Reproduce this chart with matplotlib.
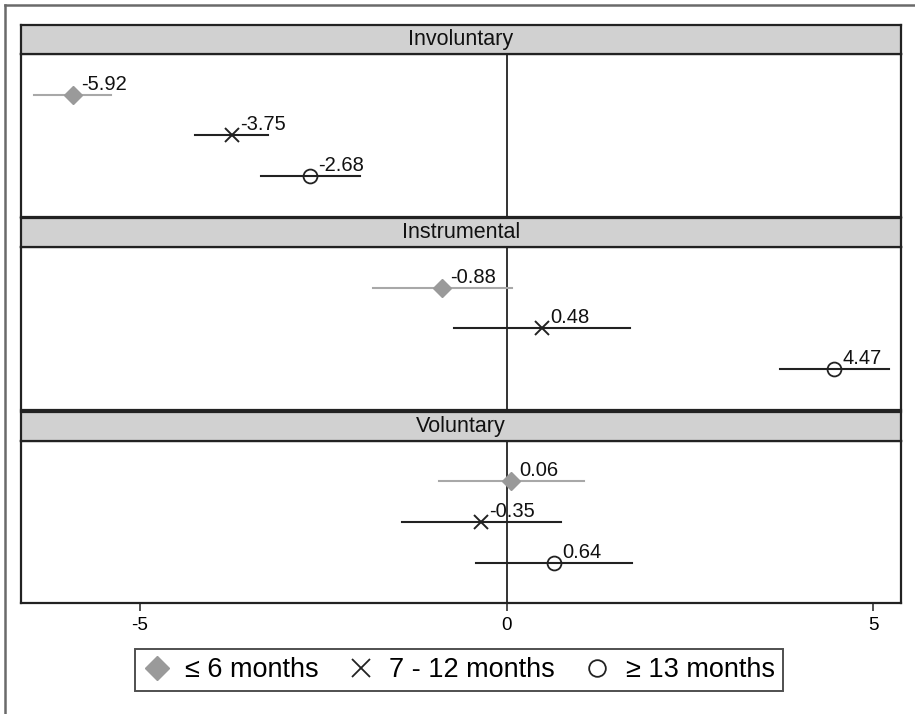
import matplotlib
matplotlib.use("Agg")
import matplotlib.pyplot as plt
from matplotlib.lines import Line2D

plt.rcParams['font.family'] = ['Liberation Sans', 'DejaVu Sans']

panels = ["Involuntary", "Instrumental", "Voluntary"]
groups = ["\u2264 6 months", "7 - 12 months", "\u2265 13 months"]
estimates = {
    "Involuntary": [-5.92, -3.75, -2.68],
    "Instrumental": [-0.88, 0.48, 4.47],
    "Voluntary": [0.06, -0.35, 0.64],
}
ci_low = {
    "Involuntary": [-6.45, -4.25, -3.35],
    "Instrumental": [-1.83, -0.72, 3.73],
    "Voluntary": [-0.92, -1.43, -0.42],
}
ci_high = {
    "Involuntary": [-5.39, -3.26, -2.00],
    "Instrumental": [0.07, 1.68, 5.21],
    "Voluntary": [1.05, 0.74, 1.71],
}
labels = {
    "Involuntary": ["-5.92", "-3.75", "-2.68"],
    "Instrumental": ["-0.88", "0.48", "4.47"],
    "Voluntary": ["0.06", "-0.35", "0.64"],
}
xticks = [-5, 0, 5]

W, H = 915, 714
fig = plt.figure(figsize=(W / 100, H / 100), dpi=100)

# outer frame (left + top only visible)
fig.add_artist(Line2D([5 / W, 5 / W], [0, 1 - 5 / H], transform=fig.transFigure,
                      color="#6a6a6a", lw=1.8))
fig.add_artist(Line2D([5 / W, 1], [1 - 5 / H, 1 - 5 / H], transform=fig.transFigure,
                      color="#6a6a6a", lw=1.8))

left_px, right_px = 21.3, 900.7
xmin = (left_px - 506.7) / 73.33
xmax = (right_px - 506.7) / 73.33

panel_tops = [54, 247, 440.7]
panel_h = 162.5
header_h = 29

marker_style = [
    dict(marker="D", color="#9a9a9a", ms=9, mfc="#9a9a9a", mec="#9a9a9a"),
    dict(marker="x", color="#222222", ms=10, mew=1.4),
    dict(marker="o", color="#222222", ms=10, mfc="none", mec="#222222", mew=1.3),
]
line_colors = ["#a8a8a8", "#222222", "#222222"]

axes = []
for i, name in enumerate(panels):
    top = panel_tops[i]
    ax = fig.add_axes([left_px / W, 1 - (top + panel_h) / H,
                       (right_px - left_px) / W, panel_h / H])
    ax.set_xlim(xmin, xmax)
    ax.set_ylim(4, 0)
    ax.axvline(0, color="#333333", lw=1.4, zorder=1)
    for j in range(3):
        y = j + 1
        ax.plot([ci_low[name][j], ci_high[name][j]], [y, y],
                color=line_colors[j], lw=1.5, zorder=2)
        ax.plot([estimates[name][j]], [y], ls="none", zorder=3, **marker_style[j])
        ax.annotate(labels[name][j], (estimates[name][j], y), xytext=(6, 3.5),
                    textcoords="offset points", fontsize=14.5, color="#111111",
                    ha="left", va="baseline")
    ax.set_yticks([])
    for s in ax.spines.values():
        s.set_color("#222222")
        s.set_linewidth(1.6)
    if i < 2:
        ax.set_xticks([])
    else:
        ax.set_xticks(xticks)
        ax.set_xticklabels([str(t) for t in xticks])
        ax.tick_params(axis="x", length=6, width=1.2, color="#333333",
                       labelsize=13.5, pad=4)
    # header strip
    hax = fig.add_axes([left_px / W, 1 - top / H,
                        (right_px - left_px) / W, header_h / H])
    hax.set_xticks([])
    hax.set_yticks([])
    hax.set_facecolor("#d1d1d1")
    for s in hax.spines.values():
        s.set_color("#222222")
        s.set_linewidth(1.6)
    hax.text(0.5, 0.5, name, ha="center", va="center", fontsize=15.5,
             color="#111111", transform=hax.transAxes)
    axes.append(ax)

handles = [
    Line2D([], [], ls="none", marker="D", color="#9a9a9a", ms=12),
    Line2D([], [], ls="none", marker="x", color="#222222", ms=12.5, mew=1.3),
    Line2D([], [], ls="none", marker="o", mfc="none", mec="#222222", ms=12, mew=1.3),
]
leg = fig.legend(handles, groups, loc="center", bbox_to_anchor=(459 / W, 1 - 670 / H),
                 ncol=3, frameon=True, fancybox=False, fontsize=19.5,
                 handlelength=1.0, handletextpad=0.55, columnspacing=1.05,
                 borderpad=0.3, edgecolor="#222222")
leg.get_frame().set_linewidth(1.4)

fig.savefig("out.png", dpi=100)
